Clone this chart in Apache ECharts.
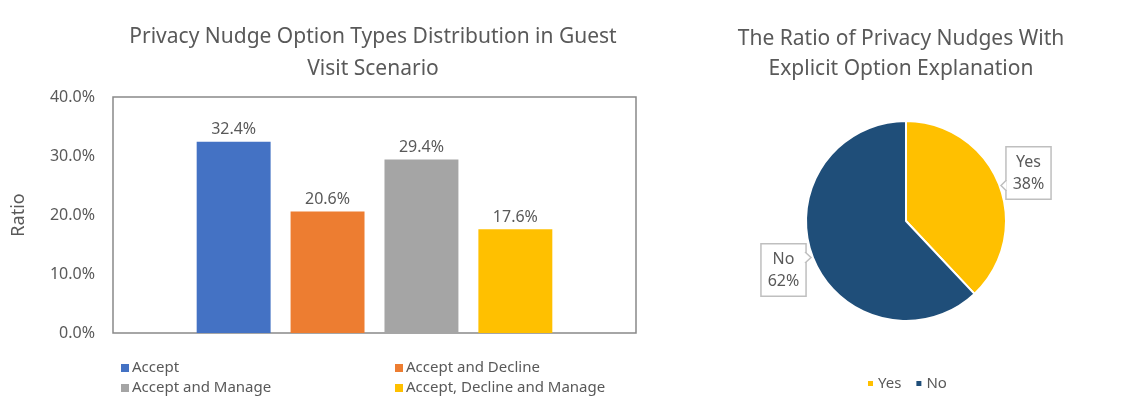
<!DOCTYPE html>
<html><head><meta charset="utf-8">
<script src="https://cdn.jsdelivr.net/npm/echarts@6/dist/echarts.min.js"></script>
<style>html,body{margin:0;padding:0;background:#fff}#c{width:1148px;height:411px}</style>
</head><body><div id="c"></div>
<script>
const barCategories = ['Accept', 'Accept and Decline', 'Accept and Manage', 'Accept, Decline and Manage'];
const barValues = [32.4, 20.6, 29.4, 17.6];
const barColors = ['#4472C4', '#ED7D31', '#A5A5A5', '#FFC000'];
const yTicks = [0, 10, 20, 30, 40];
const pieNames = ['Yes', 'No'];
const pieValues = [38, 62];
const pieColors = ['#FFC000', '#1F4E79'];
const leftTitle = 'Privacy Nudge Option Types Distribution in Guest\nVisit Scenario';
const rightTitle = 'The Ratio of Privacy Nudges With\nExplicit Option Explanation';

const FONT = 'Noto Sans';
const TXT = '#595959';
const BOX = '#BFBFBF';
const chart = echarts.init(document.getElementById('c'));

const barSeries = barCategories.map((name, i) => ({
  type: 'bar', name, data: [barValues[i]],
  itemStyle: { color: barColors[i] },
  barGap: '27%', barCategoryGap: '32%',
  label: { show: true, position: 'top', distance: 4, formatter: p => p.value.toFixed(1) + '%',
    color: TXT, fontFamily: FONT, fontSize: 16 }
}));

// callout pointers of the pie labels (decoration)
function pointer(baseX, tipX, y0, y1, tipY) {
  return [
    { type: 'polygon', z: 200, shape: { points: [[baseX, y0 - 0.5], [tipX, tipY], [baseX, y1 + 0.5]] },
      style: { fill: '#fff' } },
    { type: 'polyline', z: 201, shape: { points: [[baseX, y0], [tipX, tipY], [baseX, y1]] },
      style: { stroke: BOX, lineWidth: 1.5, fill: null } }
  ];
}

chart.setOption({
  animation: false,
  textStyle: { fontFamily: FONT },
  graphic: [
    { type: 'text', x: 373, y: 21, style: { text: leftTitle, align: 'center', verticalAlign: 'top',
      fontFamily: FONT, fontSize: 21, lineHeight: 32, fill: TXT } },
    { type: 'text', x: 901, y: 24, style: { text: rightTitle, align: 'center', verticalAlign: 'top',
      fontFamily: FONT, fontSize: 21, lineHeight: 30, fill: TXT } },
    ...pointer(1006.5, 1001, 180, 191, 185.5),
    ...pointer(805, 811, 252, 263, 257.5)
  ],
  legend: [
    { data: [barCategories[0], barCategories[2]], orient: 'vertical', left: 116, top: 354,
      icon: 'rect', itemWidth: 8, itemHeight: 8, itemGap: 2,
      textStyle: { color: TXT, fontSize: 15, lineHeight: 18, fontFamily: FONT, padding: [0,0,0,-2] } },
    { data: [barCategories[1], barCategories[3]], orient: 'vertical', left: 390, top: 354,
      icon: 'rect', itemWidth: 8, itemHeight: 8, itemGap: 2,
      textStyle: { color: TXT, fontSize: 15, lineHeight: 18, fontFamily: FONT, padding: [0,0,0,-2] } },
    { data: pieNames, orient: 'horizontal', left: 861, top: 371,
      icon: 'rect', itemWidth: 7, itemHeight: 7, itemGap: 13,
      textStyle: { color: TXT, fontSize: 15, fontFamily: FONT, padding: [0,0,0,-1] } }
  ],
  grid: { left: 113, right: 512, top: 97, bottom: 78, show: true, borderColor: '#898989', borderWidth: 1.5 },
  xAxis: { type: 'category', data: [''], axisLine: { show: false }, axisTick: { show: false }, axisLabel: { show: false } },
  yAxis: { type: 'value', min: yTicks[0], max: yTicks[yTicks.length - 1], interval: 10,
    name: 'Ratio', nameLocation: 'middle', nameGap: 85, nameRotate: 90,
    nameTextStyle: { color: TXT, fontSize: 18, fontFamily: FONT },
    splitLine: { show: false }, axisLine: { show: false }, axisTick: { show: false },
    axisLabel: { color: TXT, fontSize: 16, fontFamily: FONT, margin: 18, formatter: v => v.toFixed(1) + '%' } },
  series: [
    ...barSeries,
    { type: 'pie', center: [906, 221], radius: 100, startAngle: 90, clockwise: true,
      data: pieNames.map((n, i) => ({ name: n, value: pieValues[i], itemStyle: { color: pieColors[i] } })),
      itemStyle: { borderColor: '#fff', borderWidth: 2 },
      label: { show: true, formatter: '{b}\n{d}%', color: TXT, fontFamily: FONT, fontSize: 16, lineHeight: 22,
        backgroundColor: '#fff', borderColor: BOX, borderWidth: 1.5, padding: [4, 6, 3, 6] },
      labelLine: { show: false },
      labelLayout: p => p.dataIndex === 0
        ? { x: 1028.5, y: 173, align: 'center', verticalAlign: 'middle' }
        : { x: 783.5, y: 270, align: 'center', verticalAlign: 'middle' },
      emphasis: { disabled: true }
    }
  ]
});
</script></body></html>
